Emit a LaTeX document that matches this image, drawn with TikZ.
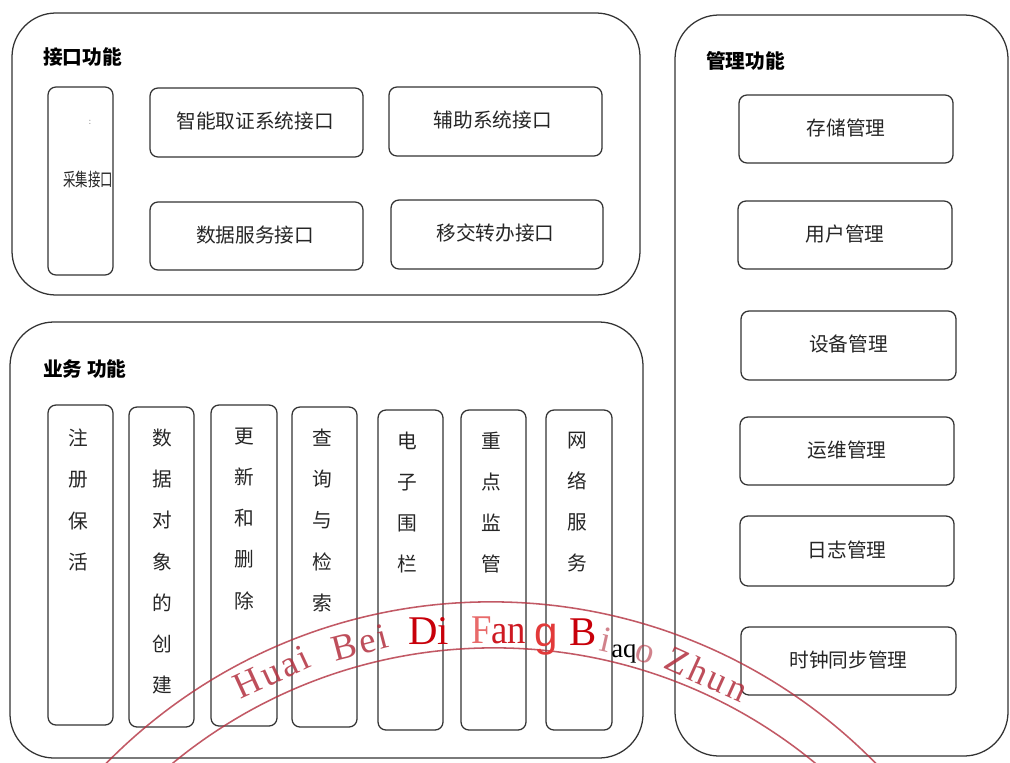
\documentclass[tikz,border=0pt]{standalone}
\usepackage{fontspec}
\newfontfamily\cjk{Noto Sans CJK SC}
\newfontfamily\stampfont[LetterSpace=8]{Liberation Serif}
\newfontfamily\serifrm{Liberation Serif}
\newfontfamily\sansrm{Liberation Sans}
\usetikzlibrary{fit}
\definecolor{stampred}{HTML}{B3303F}
\definecolor{ocrred}{HTML}{C8000A}
\definecolor{ocrpink}{HTML}{E86A6A}
\definecolor{ocrg}{HTML}{E23A3A}
\definecolor{linegray}{HTML}{333333}
\begin{document}
\begin{tikzpicture}[x=0.025cm,y=-0.025cm,
  panel/.style={draw=linegray, line width=0.9pt, rounded corners=1.1cm, inner sep=0pt},
  box/.style={draw=linegray, line width=0.9pt, rounded corners=0.2cm, inner sep=0pt},
  btext/.style={font=\cjk\fontsize{14}{17}\selectfont, text=black!85, anchor=base, inner sep=0pt},
  head/.style={font=\cjk\bfseries\fontsize{14}{17}\selectfont, anchor=west, inner sep=0pt},
  vtext/.style={font=\cjk\fontsize{14}{29.2}\selectfont, align=center, anchor=north,
    inner sep=0pt, text=black!85},
  stampword/.style={font=\stampfont\fontsize{26}{28}\selectfont, text=stampred,
    text opacity=0.85, inner sep=0pt},
  ocr/.style={font=\serifrm\fontsize{29}{32}\selectfont, anchor=base west, inner sep=0pt}
]
\fill[white] (0,0) rectangle (1010,762);
\useasboundingbox (0,0) rectangle (1010,762);

% panels
\node[panel, fit={(12,13)(640,295)}] (pIface) {};
\node[panel, fit={(10,322)(643,758)}] (pBiz) {};
\node[panel, fit={(675,15)(1008,756)}] (pMgmt) {};

\node[head] (hIface) at (43,57) {接口功能};
\node[head] (hBiz) at (43,369) {业务 功能};
\node[head] (hMgmt) at (706,61) {管理功能};

% interface boxes
\node[box, fit={(48,87)(113,275)}] (caiji) {};
\node[font=\cjk\fontsize{13}{15}\selectfont, inner sep=0pt, text=black!85] (caijiText) at (88,180) {\scalebox{0.68}[1]{采集接口}};
\node[font=\fontsize{7}{8}\selectfont, text=black!45, inner sep=0pt] (caijiDot) at (90,122) {:};
\node[box, fit={(150,88)(363,157)}] (zhineng) {};
\node[btext] (zhinengT) at ([xshift=-1pt,yshift=-4.6pt]zhineng.center) {智能取证系统接口};
\node[box, fit={(389,87)(602,156)}] (fuzhu) {};
\node[btext] (fuzhuT) at ([xshift=-2pt,yshift=-4.6pt]fuzhu.center) {辅助系统接口};
\node[box, fit={(150,202)(363,270)}] (shuju) {};
\node[btext] (shujuT) at ([xshift=-1pt,yshift=-4.6pt]shuju.center) {数据服务接口};
\node[box, fit={(391,200)(603,269)}] (yijiao) {};
\node[btext] (yijiaoT) at ([xshift=-1pt,yshift=-4.6pt]yijiao.center) {移交转办接口};

% business boxes
\node[box, fit={(48,405)(113,725)}] (b1) {};
\node[box, fit={(129,407)(194,727)}] (b2) {};
\node[box, fit={(211,405)(277,726)}] (b3) {};
\node[box, fit={(292,407)(357,727)}] (b4) {};
\node[box, fit={(378,410)(443,730)}] (b5) {};
\node[box, fit={(461,410)(526,730)}] (b6) {};
\node[box, fit={(546,410)(612,730)}] (b7) {};

\node[vtext] (t1) at (78,429) {注\\册\\保\\活};
\node[vtext] (t2) at (162,429) {数\\据\\对\\象\\的\\创\\建};
\node[vtext] (t3) at (244,428) {更\\新\\和\\删\\除};
\node[vtext] (t4) at (322,429) {查\\询\\与\\检\\索};
\node[vtext] (t5) at (407,432) {电\\子\\围\\栏};
\node[vtext] (t6) at (491,432) {重\\点\\监\\管};
\node[vtext] (t7) at (577,432) {网\\络\\服\\务};

% management boxes
\node[box, fit={(739,95)(953,163)}] (m1) {};
\node[btext] (m1T) at ([yshift=-4.6pt]m1.center) {存储管理};
\node[box, fit={(738,201)(952,269)}] (m2) {};
\node[btext] (m2T) at ([yshift=-4.6pt]m2.center) {用户管理};
\node[box, fit={(741,311)(956,380)}] (m3) {};
\node[btext] (m3T) at ([yshift=-4.6pt]m3.center) {设备管理};
\node[box, fit={(740,417)(954,485)}] (m4) {};
\node[btext] (m4T) at ([yshift=-4.6pt]m4.center) {运维管理};
\node[box, fit={(740,516)(954,586)}] (m5) {};
\node[btext] (m5T) at ([yshift=-4.6pt]m5.center) {日志管理};
\node[box, fit={(741,627)(956,695)}] (m6) {};
\node[btext] (m6T) at ([yshift=-4.6pt]m6.center) {时钟同步管理};

% stamp
\begin{scope}
\clip (0,0) rectangle (1010,762);
\coordinate (scOut) at (491,1141);
\coordinate (scIn) at (494,1153);
\draw[stampred, draw opacity=0.8, line width=1.1pt] (scOut) circle[radius=13.475cm];
\draw[stampred, draw opacity=0.8, line width=1.1pt] (scIn) circle[radius=12.625cm];
\end{scope}
\node[stampword, rotate=24.7] (sHuai) at (272,672) {Huai};
\node[stampword, rotate=14.7] (sBei) at (360,643) {Bei};
\node[stampword, rotate=-12.7, text opacity=0.6] (sI) at (606,640) {i};
\node[stampword, rotate=-17, text opacity=0.6] (sO) at (645,654) {o};
\node[stampword, rotate=-24.4] (sZhun) at (707,674) {Zhun};

% OCR overlay
\node[ocr, text=ocrred] (oDi) at (408,644) {Di};
\node[ocr] (oFan) at (471,643) {\scalebox{0.9}[1]{\textcolor{ocrpink}{F}\textcolor{ocrred!90}{an}}};
\node[ocr, font=\sansrm\fontsize{30}{32}\selectfont, text=ocrg] (oG) at (534,646) {g};
\node[ocr, text=ocrred] (oB) at (569,645) {B};
\node[ocr, font=\serifrm\fontsize{19}{21}\selectfont, text=black] (oAq) at (611,657) {aq};
\end{tikzpicture}
\end{document}
